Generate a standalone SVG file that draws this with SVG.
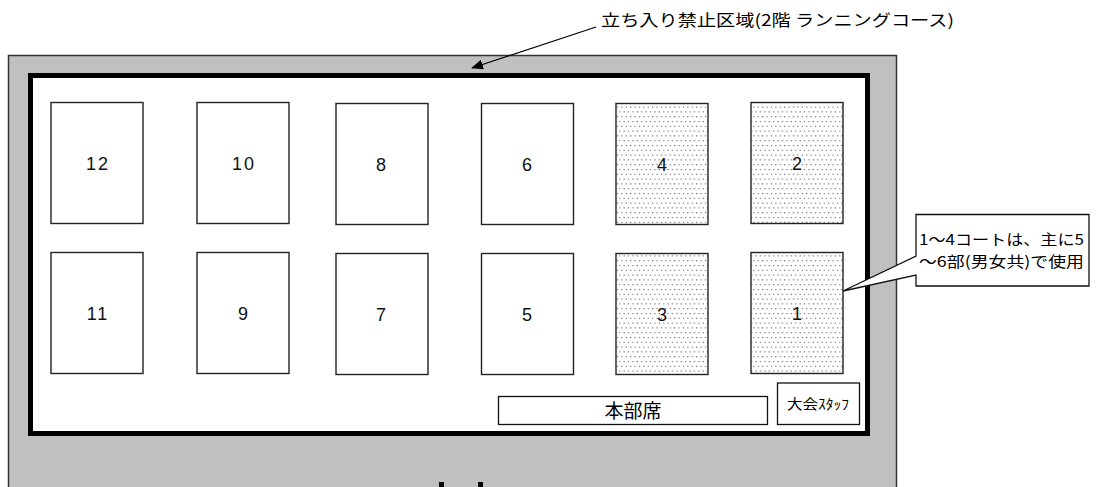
<svg xmlns="http://www.w3.org/2000/svg" width="1098" height="487" viewBox="0 0 1098 487">
<defs>
<style>
.court{fill:#fff;stroke:#222;stroke-width:1.4}
.dotted{fill:url(#dots);stroke:#222;stroke-width:1.4}
.num{font-family:"Liberation Sans",Arial,sans-serif;font-size:18px;letter-spacing:2px;text-anchor:middle;fill:#111}
.jp{font-family:"Noto Sans CJK JP","Noto Sans",sans-serif;fill:#000}
.box{fill:#fff;stroke:#111;stroke-width:1.3}
</style>
<pattern id="dots" width="4.4" height="9.6" patternUnits="userSpaceOnUse">
<rect width="4.4" height="9.6" fill="#fff"/>
<rect x="1" y="1" width="1" height="1" fill="#333"/>
<rect x="3.2" y="5.8" width="1" height="1" fill="#333"/>
</pattern>
<marker id="ah" markerWidth="12" markerHeight="10" refX="11" refY="5" orient="auto" markerUnits="userSpaceOnUse">
<path d="M0,0 L12,5 L0,10 Z" fill="#000"/>
</marker>
</defs>

<g id="floor">
<rect x="8.5" y="55.5" width="888" height="440" fill="#c0c0c0" stroke="#333" stroke-width="1.5"/>
<rect x="30.5" y="75.5" width="837" height="358" fill="#fff" stroke="#000" stroke-width="5"/>
<rect x="439" y="482" width="5" height="5" fill="#000"/>
<rect x="478" y="482" width="5" height="5" fill="#000"/>
</g>

<g id="court-12"><rect class="court" x="51" y="102.5" width="92" height="121"/><text class="num" x="98" y="170">12</text></g>
<g id="court-10"><rect class="court" x="197" y="102.5" width="92" height="121"/><text class="num" x="244" y="170">10</text></g>
<g id="court-8"><rect class="court" x="336" y="103.5" width="92" height="121"/><text class="num" x="382" y="171">8</text></g>
<g id="court-6"><rect class="court" x="481.5" y="103.5" width="92" height="121"/><text class="num" x="528" y="171">6</text></g>
<g id="court-4"><rect class="dotted" x="616" y="103.5" width="92" height="121"/><text class="num" x="663" y="171">4</text></g>
<g id="court-2"><rect class="dotted" x="751" y="102.5" width="92" height="121"/><text class="num" x="798" y="170">2</text></g>

<g id="court-11"><rect class="court" x="51" y="252.5" width="92" height="121"/><text class="num" x="98" y="320">11</text></g>
<g id="court-9"><rect class="court" x="197" y="252.5" width="92" height="121"/><text class="num" x="244" y="320">9</text></g>
<g id="court-7"><rect class="court" x="336" y="253.5" width="92" height="121"/><text class="num" x="382" y="321">7</text></g>
<g id="court-5"><rect class="court" x="481.5" y="253.5" width="92" height="121"/><text class="num" x="528" y="321">5</text></g>
<g id="court-3"><rect class="dotted" x="616" y="253.5" width="92" height="121"/><text class="num" x="663" y="321">3</text></g>
<g id="court-1"><rect class="dotted" x="751" y="252.5" width="92" height="121"/><text class="num" x="798" y="320">1</text></g>

<g id="honbuseki"><rect class="box" x="498.5" y="396.5" width="269" height="28"/><text class="jp" x="633" y="418" font-size="19" text-anchor="middle">本部席</text></g>
<g id="staff"><rect class="box" x="777.5" y="383" width="82" height="41.5"/><text class="jp" x="787" y="409" font-size="14" textLength="62" lengthAdjust="spacingAndGlyphs">大会ｽﾀｯﾌ</text></g>

<g id="callout">
<path class="box" d="M916,214.5 H1089 V286 H916 V275 L843,291 L916,256 Z"/>
<text class="jp" x="919" y="245" font-size="15" textLength="165" lengthAdjust="spacingAndGlyphs">1～4コートは、主に5</text>
<text class="jp" x="919" y="267" font-size="15" textLength="165" lengthAdjust="spacingAndGlyphs">～6部(男女共)で使用</text>
</g>

<g id="label">
<text class="jp" x="601" y="26" font-size="16" textLength="353" lengthAdjust="spacingAndGlyphs">立ち入り禁止区域(2階 ランニングコース)</text>
</g>

<g id="connectors">
<line x1="596" y1="27" x2="472" y2="68" stroke="#000" stroke-width="1.3" marker-end="url(#ah)"/>
</g>
</svg>
